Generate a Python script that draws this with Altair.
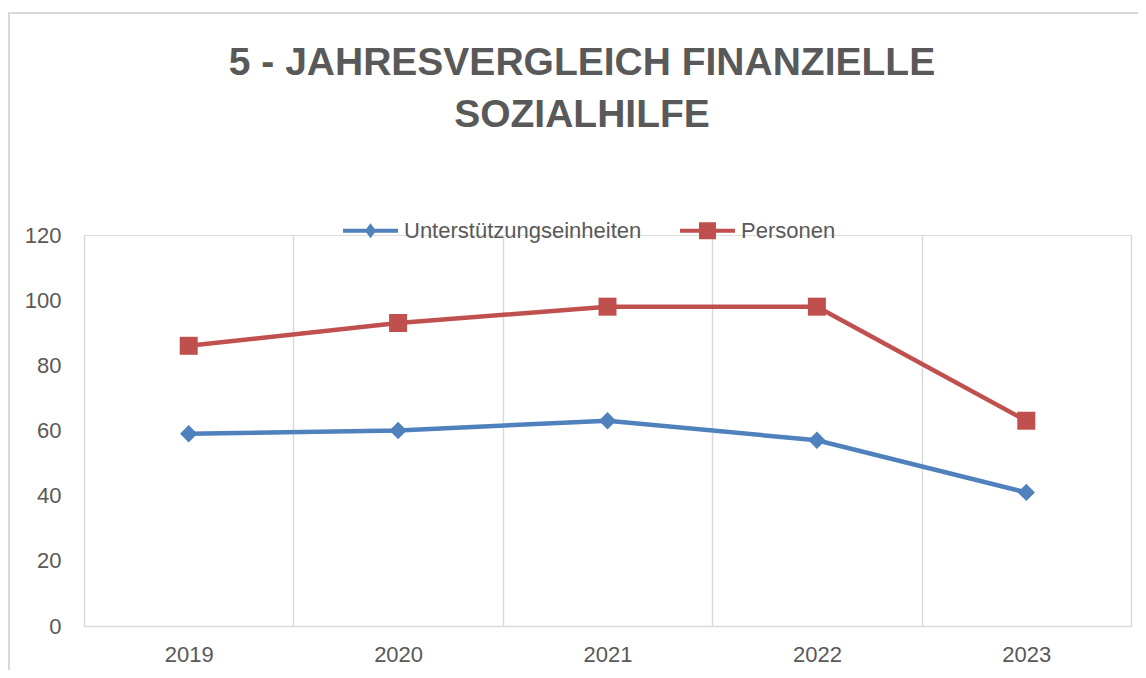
import altair as alt
import pandas as pd

# ---- data ----
years = ["2019", "2020", "2021", "2022", "2023"]
einheiten = [59, 60, 63, 57, 41]
personen = [86, 93, 98, 98, 63]
series_names = ["Unterstützungseinheiten", "Personen"]
series_colors = ["#4f81bd", "#c0504d"]
marker_shapes = ["diamond", "square"]
marker_sizes = [300, 324]
y_ticks = [0, 20, 40, 60, 80, 100, 120]
title_lines = ["5 - JAHRESVERGLEICH FINANZIELLE", "SOZIALHILFE"]

# legend symbols: line segment with marker (Excel style)
legend_paths = [
    "M-1,-0.073H1V0.073H-1ZM0,-0.27L0.2,0L0,0.27L-0.2,0Z",
    "M-1,-0.073H1V0.073H-1ZM-0.31,-0.31H0.31V0.31H-0.31Z",
]

rows = []
for name, vals, col, shp, sz in zip(series_names, [einheiten, personen],
                                    series_colors, marker_shapes, marker_sizes):
    for yr, v in zip(years, vals):
        rows.append({"Jahr": yr, "Wert": v, "Serie": name,
                     "Farbe": col, "Form": shp, "Groesse": sz})
df = pd.DataFrame(rows)
leg_df = pd.DataFrame({"Serie": series_names})
frame_df = pd.DataFrame({"k": [0]})

W, H = 1047, 391
TXT = "#595959"
GRID = "#d9d9d9"
FONT = "Liberation Sans"

x_enc = alt.X(
    "Jahr:O", sort=years,
    scale=alt.Scale(type="band", paddingInner=0, paddingOuter=0),
    axis=alt.Axis(title=None, tickBand="extent", grid=True, gridColor=GRID,
                  gridWidth=1.5, ticks=False, domainColor=GRID, domainWidth=1.5,
                  labelAngle=0, labelFontSize=22, labelFont=FONT,
                  labelColor=TXT, labelPadding=18),
)
y_enc = alt.Y(
    "Wert:Q",
    scale=alt.Scale(domain=[0, 120], nice=False),
    axis=alt.Axis(title=None, values=y_ticks, domain=False, ticks=False,
                  grid=False, labelFontSize=22, labelFont=FONT,
                  labelColor=TXT, labelPadding=23),
)

base = alt.Chart(df)
lines = base.mark_line(strokeWidth=4.5).encode(
    x=x_enc, y=y_enc, color=alt.Color("Farbe:N", scale=None),
    detail="Serie:N",
)
points = base.mark_point(filled=True, opacity=1, strokeWidth=0).encode(
    x=x_enc, y=y_enc,
    color=alt.Color("Farbe:N", scale=None),
    shape=alt.Shape("Form:N", scale=None),
    size=alt.Size("Groesse:Q", scale=None),
)

leg = alt.Legend(title=None, orient="none", legendX=259, legendY=-32,
                 direction="horizontal", symbolSize=3025, symbolStrokeWidth=0,
                 labelOffset=6, columnPadding=38, labelFontSize=22,
                 labelFont=FONT, labelColor=TXT, labelLimit=600, padding=0)
legend_layer = alt.Chart(leg_df).transform_filter("false").mark_point(
    filled=True, opacity=1).encode(
    color=alt.Color("Serie:N", scale=alt.Scale(domain=series_names,
                                               range=series_colors), legend=leg),
    shape=alt.Shape("Serie:N", scale=alt.Scale(domain=series_names,
                                               range=legend_paths), legend=leg),
)

border_v = alt.Chart(frame_df).mark_rule(color=GRID, strokeWidth=2).encode(
    x=alt.value(-75), y=alt.value(-222), y2=alt.value(H + 80))
border_h = alt.Chart(frame_df).mark_rule(color=GRID, strokeWidth=2).encode(
    y=alt.value(-222), x=alt.value(-76), x2=alt.value(W + 40))

chart = alt.layer(border_v, border_h, lines, points, legend_layer).properties(
    width=W, height=H,
    title=alt.TitleParams(text=title_lines, font=FONT, fontSize=39,
                          fontWeight="bold", color=TXT, lineHeight=52,
                          anchor="middle", dx=-25.5, offset=-123),
    autosize=alt.AutoSizeParams(type="none"),
    padding={"left": 76, "top": 227, "right": 7, "bottom": 44},
).configure_view(stroke=None).configure(background="white")

chart.save("out.html", embed_options={"renderer": "svg", "actions": False})
